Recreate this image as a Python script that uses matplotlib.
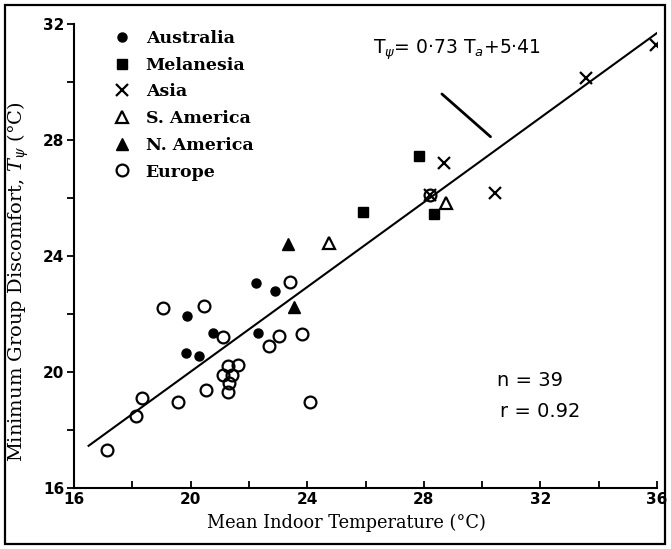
# Minimum group discomfort vs mean indoor temperature, by region.

import matplotlib
matplotlib.use("Agg")
import matplotlib.pyplot as plt
from matplotlib.patches import Rectangle
import numpy as np

# data (x = Ta, y = T_psi, both in degC)
australia_x = [19.86, 19.84, 20.29, 20.78, 22.26, 22.90, 22.32]
australia_y = [21.92, 20.67, 20.55, 21.34, 23.08, 22.79, 21.33]

melanesia_x = [27.83, 25.90, 28.35]
melanesia_y = [27.46, 25.51, 25.45]

asia_x = [28.20, 28.69, 30.43, 33.58, 35.95]
asia_y = [26.10, 27.19, 26.16, 30.13, 31.28]

s_america_x = [24.75, 28.77]
s_america_y = [24.44, 25.84]

n_america_x = [23.35, 23.54]
n_america_y = [24.40, 22.23]

europe_x = [19.06, 20.47, 21.12, 18.32, 18.13, 19.58, 20.53, 17.12,
            23.40, 23.04, 22.70, 23.81, 24.09,
            21.29, 21.61, 21.12, 21.41, 21.32, 21.28, 28.20]
europe_y = [22.22, 22.28, 21.22, 19.09, 18.48, 18.96, 19.38, 17.31,
            23.11, 21.24, 20.90, 21.31, 18.96,
            20.21, 20.24, 19.90, 19.90, 19.61, 19.30, 26.10]

# regression: T_psi = 0.73 Ta + 5.41
slope = 0.73
intercept = 5.41
fit_range = [16.5, 36.0]

fig = plt.figure(figsize=(6.71, 5.49), dpi=100)
ax = fig.add_axes([74 / 671, 1 - 488 / 549, 583 / 671, 464 / 549])

# frame round the whole picture
fig.patches.append(Rectangle((5 / 671, 5 / 549), 660 / 671, 539 / 549,
                             transform=fig.transFigure, fill=False,
                             edgecolor="black", lw=1.6))

fx = np.array(fit_range)
ax.plot(fx, slope * fx + intercept, color="black", lw=1.5, zorder=1)

ms_kw = dict(linestyle="none", color="black")
ax.plot(australia_x, australia_y, marker="o", ms=6.5, label="Australia", **ms_kw)
ax.plot(melanesia_x, melanesia_y, marker="s", ms=6.5, label="Melanesia", **ms_kw)
ax.plot(asia_x, asia_y, marker="x", ms=8, mew=1.6, label="Asia", **ms_kw)
ax.plot(s_america_x, s_america_y, marker="^", ms=8.5, mew=1.6,
        mfc="white", label="S. America", **ms_kw)
ax.plot(n_america_x, n_america_y, marker="^", ms=9, label="N. America", **ms_kw)
ax.plot(europe_x, europe_y, marker="o", ms=8.5, mew=1.6, mfc="none",
        label="Europe", **ms_kw)

ax.set_xlim(16, 36)
ax.set_ylim(16, 32)
ax.set_xticks(np.arange(16, 37, 4))
ax.set_xticks(np.arange(18, 36, 2), minor=True)
ax.set_yticks(np.arange(16, 33, 4))
ax.set_yticks(np.arange(18, 32, 2), minor=True)
for s in ["top", "right"]:
    ax.spines[s].set_visible(False)
for s in ["left", "bottom"]:
    ax.spines[s].set_linewidth(1.5)

ax.tick_params(axis="x", which="both", direction="in", length=5, width=1.3, pad=3)
ax.tick_params(axis="y", which="both", direction="out", length=5, width=1.3, pad=2)
for lab in ax.get_xticklabels() + ax.get_yticklabels():
    lab.set_fontweight("bold")
    lab.set_fontsize(11)

ax.set_xlabel("Mean Indoor Temperature (°C)", family="DejaVu Serif",
              fontsize=12.8)
ax.xaxis.set_label_coords(0.468, -0.055)
ax.set_ylabel(r"Minimum Group Discomfort, $T_\psi$ (°C)", family="DejaVu Serif",
              fontsize=14, math_fontfamily="dejavuserif")
ax.yaxis.set_label_coords(-0.073, 0.445)

leg = ax.legend(loc="upper left", bbox_to_anchor=(0.053, 1.006), frameon=False,
                borderpad=0, handlelength=1.0, handletextpad=0.85,
                labelspacing=0.56, prop=dict(family="DejaVu Serif",
                                             weight="bold", size=12.5))

# equation with leader line
ax.text(26.25, 31.1, r"$\mathrm{T}_\psi$= 0·73 $\mathrm{T}_a$+5·41",
        fontsize=13.5, va="center")
ax.annotate("", xy=(30.36, 28.05), xytext=(28.55, 29.65),
            arrowprops=dict(arrowstyle="-", lw=2, color="black"))

ax.text(30.5, 19.72, "n = 39", fontsize=14, va="center")
ax.text(30.6, 18.65, "r = 0.92", fontsize=14, va="center")

fig.savefig("out.png", dpi=100)
